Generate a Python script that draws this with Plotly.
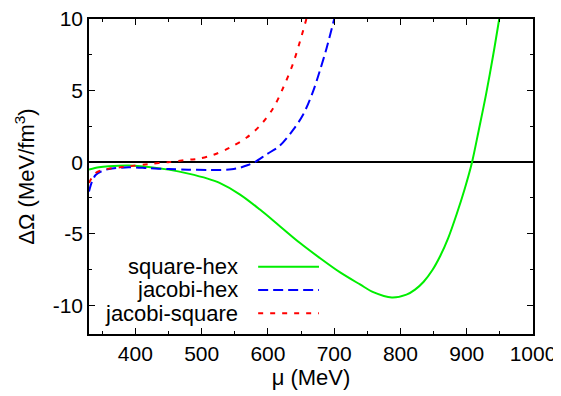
import plotly.graph_objects as go

# square-hex
mu_sh = [330, 345, 360, 390, 420, 450, 480, 509, 527, 558, 588, 618, 648, 678, 709, 739,
         759, 787, 809, 822, 835, 848, 860, 872, 885, 897, 908, 918, 929, 940, 949]
om_sh = [-0.52, -0.36, -0.29, -0.24, -0.33, -0.52, -0.8, -1.15, -1.45, -2.26, -3.31, -4.47,
         -5.63, -6.68, -7.7, -8.54, -9.08, -9.45, -9.25, -8.9, -8.35, -7.55, -6.55, -5.3,
         -3.6, -1.85, 0.0, 2.2, 4.7, 7.5, 10.0]

# jacobi-hex
mu_jh = [330, 333, 336.5, 340, 348, 360, 390, 420, 450, 480, 509, 530, 545, 558, 570,
         580, 598, 618, 638, 653, 668, 678, 688.5, 700]
om_jh = [-2.05, -1.55, -1.15, -0.9, -0.65, -0.48, -0.36, -0.42, -0.48, -0.52, -0.54, -0.54,
         -0.49, -0.38, -0.2, 0.0, 0.55, 1.15, 2.26, 3.31, 4.93, 6.33, 7.96, 10.0]

# jacobi-square
mu_js = [330, 334, 340, 348, 360, 390, 420, 450, 480, 495, 517, 542, 568, 588, 608, 623,
         638, 651, 658]
om_js = [-1.45, -1.1, -0.75, -0.58, -0.45, -0.29, -0.13, 0.0, 0.17, 0.24, 0.5, 1.0, 1.72,
         2.55, 3.78, 5.2, 6.9, 8.85, 10.0]

series = [
    ("square-hex", mu_sh, om_sh, "#00ee00", "solid"),
    ("jacobi-hex", mu_jh, om_jh, "#0000ff", "10px,5px"),
    ("jacobi-square", mu_js, om_js, "#ff0000", "5px,7px"),
]

x_ticks = [400, 500, 600, 700, 800, 900, 1000]
y_ticks = [-10, -5, 0, 5, 10]
y_tick_text = ["-10", "-5", "0", "5", "10"]

FONT = "Liberation Sans, Arial, Helvetica, sans-serif"

fig = go.Figure()
for name, x, y, c, d in series:
    fig.add_trace(go.Scatter(x=x, y=y, mode="lines", name=name,
                             line=dict(color=c, width=2, dash=d, shape="spline", smoothing=0.9),
                             showlegend=False))

axis_common = dict(showline=True, linecolor="black", linewidth=1.5, mirror="allticks",
                   ticks="inside", ticklen=6, tickwidth=1.2, tickcolor="black",
                   showgrid=False, automargin=False, ticklabeloverflow="allow",
                   tickfont=dict(family=FONT, size=21, color="black"))

fig.update_xaxes(range=[330, 1000], tickvals=x_ticks, ticktext=[str(v) for v in x_ticks],
                 minor=dict(dtick=50, tick0=0, ticks="inside", ticklen=3, tickcolor="black"),
                 zeroline=False,
                 title=dict(text="μ (MeV)", font=dict(family=FONT, size=22, color="black"), standoff=0),
                 **axis_common)
fig.update_yaxes(range=[-12, 10], tickvals=y_ticks, ticktext=y_tick_text,
                 minor=dict(dtick=2.5, tick0=0, ticks="inside", ticklen=3, tickcolor="black"),
                 zeroline=True, zerolinecolor="black", zerolinewidth=1.5,
                 title=dict(text="ΔΩ (MeV/fm<sup>3</sup>)", font=dict(family=FONT, size=22, color="black"), standoff=12),
                 **axis_common)

# legend drawn manually (text left of sample line)
ys = [0.2137, 0.1397, 0.0657]
for (name, x, y, c, d), yy in zip(series, ys):
    fig.add_annotation(x=0.34, y=yy, xref="paper", yref="paper", text=name, showarrow=False,
                       xanchor="right", yanchor="middle",
                       font=dict(family=FONT, size=22, color="black"))
    fig.add_shape(type="line", xref="paper", yref="paper", x0=0.381, x1=0.518, y0=yy, y1=yy,
                  line=dict(color=c, width=2, dash=d))

# page body has an 8px margin, so the figure is shrunk and shifted accordingly
fig.update_layout(width=553, height=388, margin=dict(l=81, r=28, t=11, b=62),
                  paper_bgcolor="white", plot_bgcolor="white",
                  font=dict(family=FONT, color="black"))

fig.write_html("out.html")
